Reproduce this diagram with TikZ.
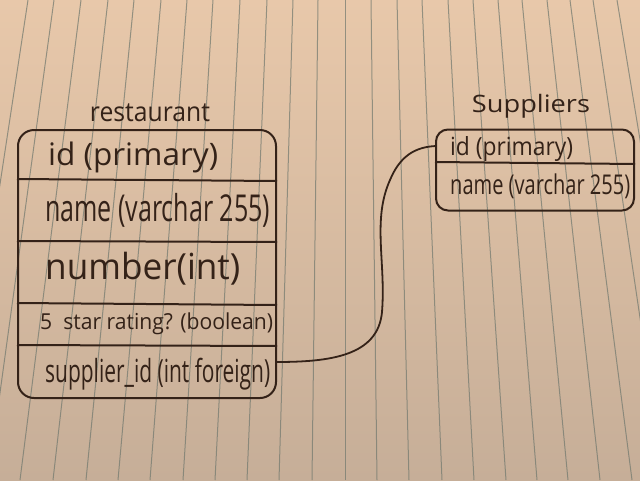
\documentclass[tikz,border=0pt]{standalone}
\usepackage{fontspec}
\usepackage{graphicx}
\setmainfont{Open Sans}
\definecolor{ink}{RGB}{52,34,24}
\definecolor{papertop}{RGB}{232,200,170}
\definecolor{paperbot}{RGB}{198,174,152}
\definecolor{rule}{RGB}{112,120,110}
\newcommand\hw[3]{\resizebox*{#1pt}{#2pt}{#3}}
\begin{document}
\begin{tikzpicture}[x=1pt,y=-1pt,
  tablebox/.style={draw=ink,line width=2pt,rounded corners=16pt,inner sep=0pt},
  cell/.style={inner sep=0pt,minimum width=#1},
  txt/.style={inner sep=0pt,anchor=west,text=ink},
  ttl/.style={inner sep=0pt,text=ink},
  divider/.style={draw=ink,line width=2pt},
  link/.style={draw=ink,line width=1.8pt}]
\useasboundingbox (0,0) rectangle (640,480);
\shade[top color=papertop,bottom color=paperbot] (0,0) rectangle (640,480);
\foreach \t/\b in {28/-45,54/-12,81/20,108/53,134/86,161/118,187/150,213/183,240/215,267/247,293/279,318/312,345/345,371/377,397/409,422/442,448/474,473/506,498/537,522/568,547/600,570/632,593/664,617/696}
  \draw[rule,line width=1pt,opacity=0.7] (\t,0) -- (\b,480);
% restaurant table
\node[tablebox,minimum width=258pt,minimum height=268pt] (rest) at (147,264) {};
\draw[divider] (rest.west |- 0,179) -- (rest.east |- 0,181);
\draw[divider] (rest.west |- 0,241) -- (rest.east |- 0,242);
\draw[divider] (rest.west |- 0,303) -- (rest.east |- 0,305);
\draw[divider] (rest.west |- 0,345) -- (rest.east |- 0,346);
\node[ttl] (rtitle) at (150,113) {\hw{120}{18}{restaurant}};
\node[txt] (r1) at (48,157) {\hw{170}{31}{id (primary)}};
\node[txt] (r2) at (45,210) {\hw{225}{34}{name (varchar 255)}};
\node[txt] (r3) at (45,269) {\hw{195}{33}{number(int)}};
\node[txt] (r4) at (40,324) {\hw{233}{22}{5\ \ star rating? (boolean)}};
\node[txt] (r5) at (45,374) {\hw{225}{32}{supplier\_id (int foreign)}};
\node[cell=258pt,minimum height=32pt] (rc5) at (147,362) {};
% suppliers table
\node[tablebox,rounded corners=12pt,minimum width=198pt,minimum height=81pt] (sup) at (535,170) {};
\draw[divider] (sup.west |- 0,162) -- (sup.east |- 0,164);
\node[ttl] (stitle) at (531,106) {\hw{118}{24}{Suppliers}};
\node[txt] (s1) at (450,149) {\hw{123}{25}{id (primary)}};
\node[txt] (s2) at (450,186) {\hw{180}{25}{name (varchar 255)}};
\node[cell=198pt,minimum height=32pt] (sc1) at (535,146) {};
% relation
\draw[link] (rc5.east) .. controls (330,362) and (378,356) .. (382,312)
  .. controls (386,262) and (372,220) .. (390,180)
  .. controls (400,156) and (415,147) .. (sc1.west);
\end{tikzpicture}
\end{document}
